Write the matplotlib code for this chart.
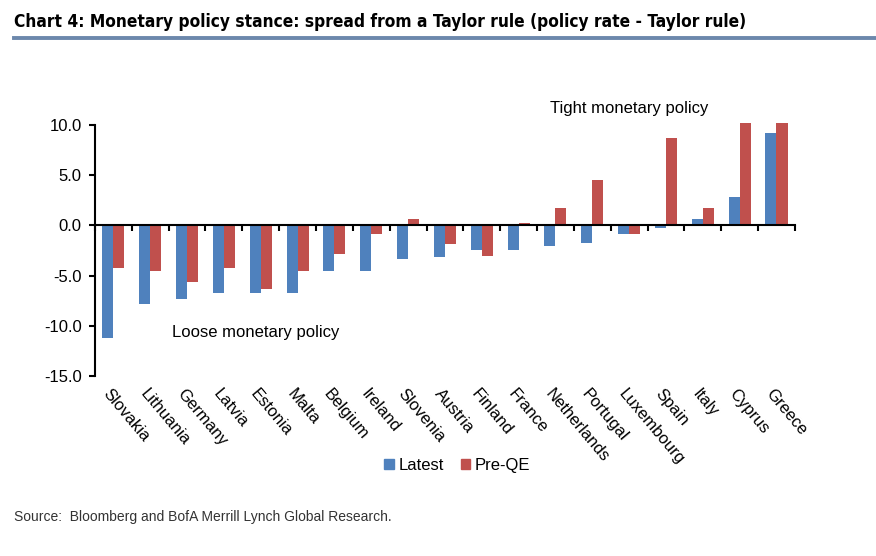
import numpy as np
import matplotlib.pyplot as plt
import matplotlib.transforms as mtransforms
from matplotlib.patches import Patch

countries = ['Slovakia', 'Lithuania', 'Germany', 'Latvia', 'Estonia', 'Malta', 'Belgium',
             'Ireland', 'Slovenia', 'Austria', 'Finland', 'France', 'Netherlands', 'Portugal',
             'Luxembourg', 'Spain', 'Italy', 'Cyprus', 'Greece']
latest = [-11.2, -7.8, -7.3, -6.7, -6.7, -6.7, -4.5, -4.5, -3.35, -3.1, -2.4, -2.4, -2.0,
          -1.7, -0.9, -0.3, 0.6, 2.8, 9.2]
pre_qe = [-4.2, -4.5, -5.6, -4.2, -6.3, -4.5, -2.8, -0.9, 0.6, -1.8, -3.0, 0.2, 1.7,
          4.5, -0.9, 8.7, 1.7, 10.2, 10.2]
yticks = [10, 5, 0, -5, -10, -15]

blue = '#4F81BD'
red = '#C0504D'
font = ['Liberation Sans', 'DejaVu Sans']
fs = 12

fig = plt.figure(figsize=(8.76, 5.56), dpi=100)
ax = fig.add_axes([0.1084, 0.3237, 0.799, 0.4514])

x = np.arange(len(countries))
w = 0.3
ax.bar(x - w / 2, latest, w, color=blue, clip_on=False)
ax.bar(x + w / 2, pre_qe, w, color=red, clip_on=False)

ax.set_xlim(-0.5, len(countries) - 0.5)
ax.set_ylim(-15, 10)
ax.set_yticks(yticks)
ax.set_yticklabels(['%.1f' % v for v in yticks], family=font, fontsize=fs)
ax.tick_params(axis='y', direction='out', length=4.5, width=1.5, pad=5)

ax.spines['top'].set_visible(False)
ax.spines['right'].set_visible(False)
ax.spines['bottom'].set_position(('data', 0))
ax.spines['left'].set_linewidth(1.5)
ax.spines['bottom'].set_linewidth(1.5)
ax.set_xticks(np.arange(len(countries) + 1) - 0.5)
ax.set_xticklabels([])
ax.tick_params(axis='x', direction='out', length=4.5, width=1.5)

trans = mtransforms.blended_transform_factory(ax.transData, ax.transAxes)
for i, c in enumerate(countries):
    ax.text(i - 0.05, -0.04, c, transform=trans, rotation=-50, ha='left', va='top',
            rotation_mode='anchor', family=font, fontsize=fs)

ax.text(1.6, -10.7, 'Loose monetary policy', family=font, fontsize=fs, va='center')
ax.text(11.85, 11.6, 'Tight monetary policy', family=font, fontsize=fs, va='center')

handles = [Patch(color=blue, label='Latest'), Patch(color=red, label='Pre-QE')]
fig.legend(handles=handles, loc='center', bbox_to_anchor=(0.522, 0.163), ncol=2,
           frameon=False, handlelength=0.55, handleheight=0.55, handletextpad=0.3,
           columnspacing=1.0, prop={'family': font, 'size': fs})

fig.text(0.016, 0.96, 'Chart 4: Monetary policy stance: spread from a Taylor rule (policy rate - Taylor rule)',
         family='DejaVu Sans', fontstretch='condensed', fontweight='bold',
         fontsize=12.4, va='center', ha='left')
fig.add_artist(plt.Line2D([0.016, 1.0], [0.931, 0.931], color='#6C88AC', linewidth=2.8,
                          transform=fig.transFigure))
fig.text(0.016, 0.07, 'Source:  Bloomberg and BofA Merrill Lynch Global Research.',
         family=font, fontsize=10, color='#333333', va='center')

fig.savefig('out.png', dpi=100)
